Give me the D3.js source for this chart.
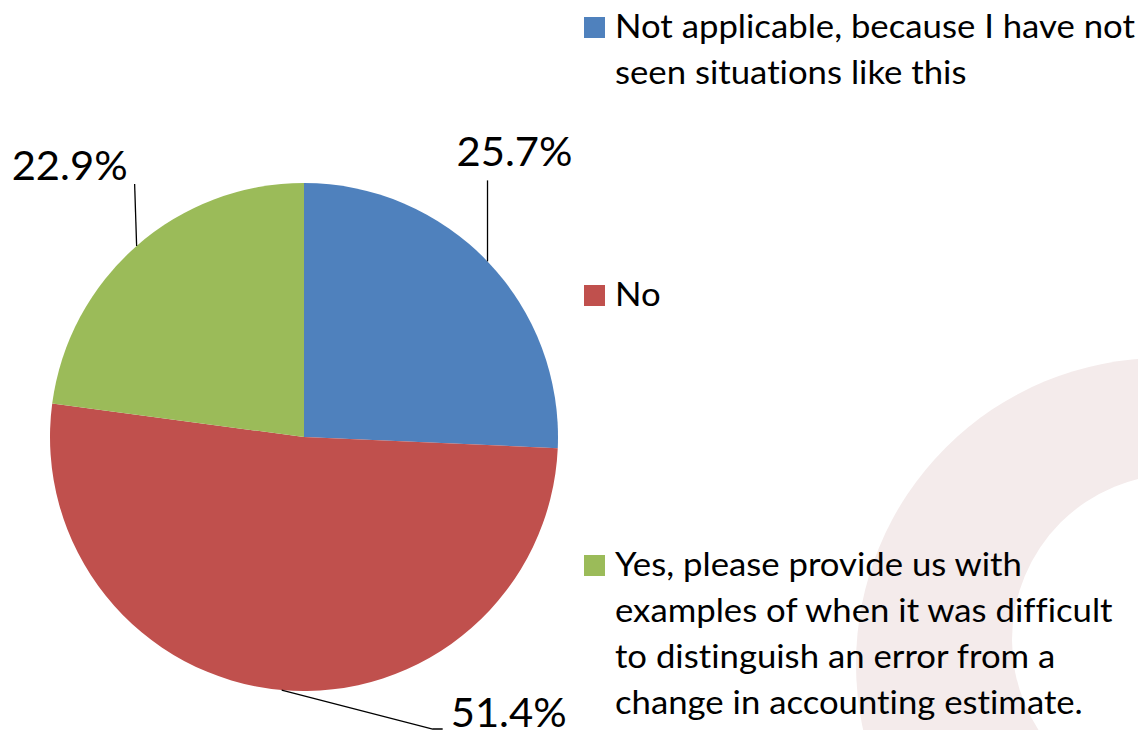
<!DOCTYPE html>
<html>
<head>
<meta charset="utf-8">
<script src="https://cdn.jsdelivr.net/npm/d3@7"></script>
<style>
  body { margin: 0; background: #fff; }
  svg { display: block; }
  text { font-family: Lato, "Open Sans", sans-serif; fill: #000; font-variant-ligatures: none; }
</style>
</head>
<body>
<svg id="chart"></svg>
<script>
/* donnees du graphique */
const categories = [
  'Not applicable, because I have not seen situations like this',
  'No',
  'Yes, please provide us with examples of when it was difficult to distinguish an error from a change in accounting estimate.'
]
const values = [25.7, 51.4, 22.9]
const valueLabels = ['25.7%', '51.4%', '22.9%']
const legendLines = [
  ['Not applicable, because I have not', 'seen situations like this'],
  ['No'],
  ['Yes, please provide us with', 'examples of when it was difficult', 'to distinguish an error from a', 'change in accounting estimate.']
]
const colors = ['#4f81bd', '#c0504d', '#9bbb59']

const width = 1138, height = 730
const cx = 304, cy = 437, radius = 254

const svg = d3.select('#chart').attr('width', width).attr('height', height)

/* filigrane en arriere-plan */
const ring = svg.append('g')
ring.append('circle').attr('cx', 1162).attr('cy', 664).attr('r', 306).attr('fill', '#f4ebeb')
ring.append('circle').attr('cx', 1178).attr('cy', 640).attr('r', 166).attr('fill', '#fff')

/* camembert */
const pie = d3.pie().sort(null).value(d => d)
const arcs = pie(values)
const arc = d3.arc().innerRadius(0).outerRadius(radius)

const g = svg.append('g').attr('transform', `translate(${cx},${cy})`)

g.selectAll('path.slice')
  .data(arcs)
  .enter()
  .append('path')
  .attr('class', 'slice')
  .attr('d', arc)
  .attr('fill', (d, i) => colors[i])

/* lignes de rappel et etiquettes */
const leaderOffsets = [[[0, -81]], [[151, 39], [161, 39]], [[-2, -62]]]
const labelOffsets = [[27, -14], [66, -2], [-65, -4]]

arcs.forEach((d, i) => {
  const a = (d.startAngle + d.endAngle) / 2
  const p0 = [Math.sin(a) * radius, -Math.cos(a) * radius]
  const pts = [p0].concat(leaderOffsets[i].map(o => [p0[0] + o[0], p0[1] + o[1]]))
  g.append('path')
    .attr('d', d3.line()(pts))
    .attr('fill', 'none')
    .attr('stroke', '#000')
    .attr('stroke-width', 1.3)
  const end = pts[pts.length - 1]
  g.append('text')
    .attr('x', end[0] + labelOffsets[i][0])
    .attr('y', end[1] + labelOffsets[i][1])
    .attr('text-anchor', 'middle')
    .attr('textLength', 116)
    .attr('lengthAdjust', 'spacingAndGlyphs')
    .style('font-size', '40px')
    .text(valueLabels[i])
})

/* legende */
const legendTops = [38, 306, 576]
const legend = svg.append('g')
categories.forEach((c, i) => {
  const item = legend.append('g')
  item.append('rect')
    .attr('x', 584).attr('y', legendTops[i] - 21)
    .attr('width', 21).attr('height', 21)
    .attr('fill', colors[i])
  legendLines[i].forEach((line, j) => {
    const t = item.append('text')
      .attr('x', 615)
      .attr('y', legendTops[i] + j * 46)
      .style('font-size', '33px')
      .text(line)
    // elargit un peu le texte pour la largeur de la police d'origine
    const w = t.node().getComputedTextLength()
    t.attr('textLength', w * 1.052).attr('lengthAdjust', 'spacingAndGlyphs')
  })
})
</script>
</body>
</html>
